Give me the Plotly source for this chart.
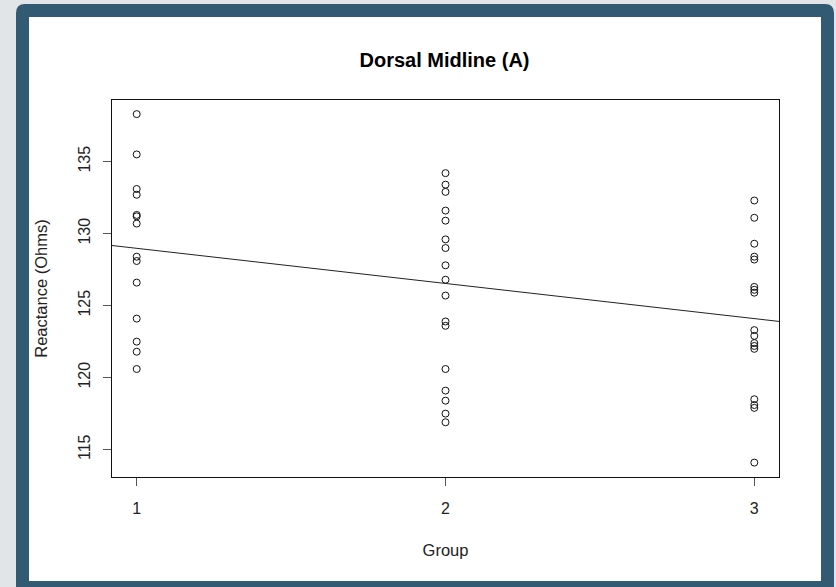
import plotly.graph_objects as go

# ---- data ----
group1 = [138.3, 135.5, 133.1, 132.7, 131.3, 131.2, 130.7, 128.4, 128.1,
          126.6, 124.1, 122.5, 121.8, 120.6]
group2 = [134.2, 133.4, 132.9, 131.6, 130.9, 129.6, 129.0, 127.8, 126.8,
          125.7, 123.9, 123.6, 120.6, 119.1, 118.4, 117.5, 116.9]
group3 = [132.3, 131.1, 129.3, 128.4, 128.2, 126.3, 126.1, 125.9, 123.3,
          122.9, 122.4, 122.2, 122.0, 118.5, 118.1, 117.9, 114.1]
groups = [1, 2, 3]
x_ticks = [1, 2, 3]
x_tick_labels = ["1", "2", "3"]
y_ticks = [115, 120, 125, 130, 135]
y_tick_labels = ["115", "120", "125", "130", "135"]

# fitted regression line
fit_intercept = 131.42
fit_slope = -2.44

xs = [g for g, vals in zip(groups, [group1, group2, group3]) for _ in vals]
ys = group1 + group2 + group3

x_range = [0.92, 3.08]
line_x = x_range
line_y = [fit_intercept + fit_slope * v for v in line_x]

# ---- geometry helpers ----
W, H = 836, 587
L, R, T, B = 112, 779, 100, 477


def px(x):
    return (x - L) / (R - L)


def py(y):
    return (B - y) / (B - T)


FONT = "Liberation Sans, Arial, sans-serif"

fig = go.Figure()
fig.add_trace(go.Scatter(
    x=xs, y=ys, mode="markers",
    marker=dict(symbol="circle-open", size=7, color="#111111",
                line=dict(width=1, color="#111111")),
    showlegend=False, hoverinfo="x+y"))
fig.add_trace(go.Scatter(
    x=line_x, y=line_y, mode="lines",
    line=dict(color="#222222", width=1),
    showlegend=False, hoverinfo="skip"))

# frame: dark rounded border + white panel
r = 9
x0, y0, x1, y1 = 16, 4, 834, 600
path = (f"M {px(x0 + r)},{py(y0)} L {px(x1 - r)},{py(y0)} "
        f"Q {px(x1)},{py(y0)} {px(x1)},{py(y0 + r)} "
        f"L {px(x1)},{py(y1)} L {px(x0)},{py(y1)} L {px(x0)},{py(y0 + r)} "
        f"Q {px(x0)},{py(y0)} {px(x0 + r)},{py(y0)} Z")
shapes = [
    dict(type="path", xref="paper", yref="paper", path=path,
         fillcolor="#335a73", line=dict(width=0), layer="below"),
    dict(type="rect", xref="paper", yref="paper",
         x0=px(29), x1=px(821), y0=py(17), y1=py(581),
         fillcolor="#ffffff", line=dict(width=0), layer="below"),
]

fig.update_layout(
    width=W, height=H,
    margin=dict(l=L, r=W - R, t=T, b=H - B, autoexpand=False),
    paper_bgcolor="#e1e5e8",
    plot_bgcolor="rgba(0,0,0,0)",
    font=dict(family=FONT, color="#222222", size=16),
    shapes=shapes,
    title=dict(text="<b>Dorsal Midline (A)</b>", x=px(444.5), xref="paper",
               xanchor="center", y=1 - 60 / H, yanchor="middle",
               font=dict(family=FONT, size=20, color="#000000")),
    xaxis=dict(range=x_range, tickvals=x_ticks, ticktext=x_tick_labels,
               showgrid=False, zeroline=False,
               showline=True, linecolor="#111111", linewidth=1, mirror=True,
               ticks="outside", ticklen=8, tickcolor="#555555", tickwidth=1,
               ticklabelstandoff=9,
               tickfont=dict(family=FONT, size=16, color="#222222"),
               title=dict(text="Group", standoff=28,
                          font=dict(family=FONT, size=16.5, color="#222222"))),
    yaxis=dict(range=[113.1, 139.28], tickvals=y_ticks, ticktext=y_tick_labels,
               tickangle=-90,
               showgrid=False, zeroline=False,
               showline=True, linecolor="#111111", linewidth=1, mirror=True,
               ticks="outside", ticklen=8, tickcolor="#555555", tickwidth=1,
               ticklabelstandoff=7,
               tickfont=dict(family=FONT, size=16, color="#222222"),
               title=dict(text="Reactance (Ohms)", standoff=23,
                          font=dict(family=FONT, size=16.5, color="#222222"))),
)

fig.write_html("out.html")
